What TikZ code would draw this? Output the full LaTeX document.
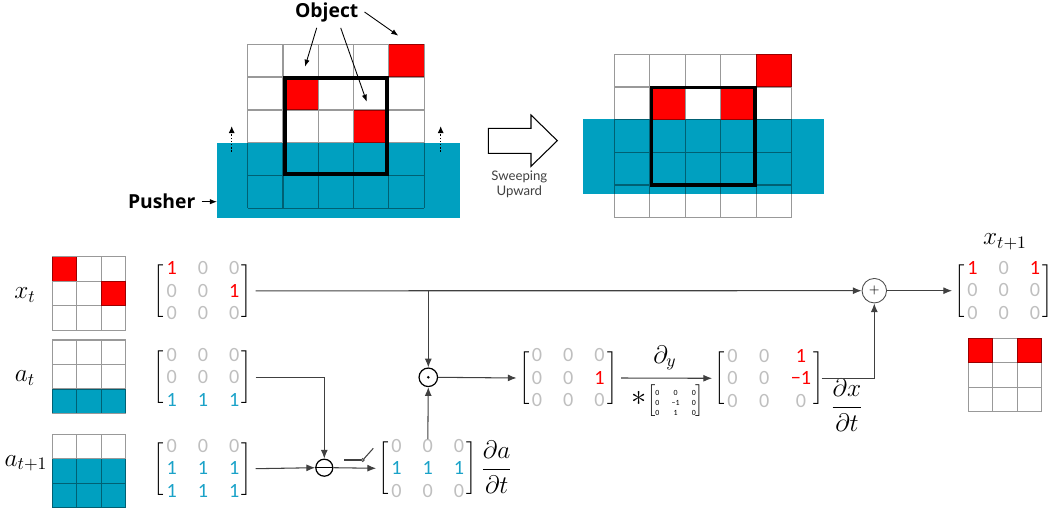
\documentclass[tikz,border=0pt]{standalone}
\usepackage{amsmath}
\usepackage{fontspec}
\usepackage{xcolor}
\usetikzlibrary{matrix}
\usetikzlibrary{positioning}
\usetikzlibrary{calc}
\usetikzlibrary{arrows.meta}

\newfontfamily\digf{Carlito}
\newfontfamily\labf{Open Sans}
\newfontfamily\capf{Lato}

\definecolor{pushblue}{RGB}{0,160,192}
\definecolor{zerogray}{RGB}{191,191,191}
\definecolor{onered}{RGB}{255,0,0}
\definecolor{oneblue}{RGB}{26,162,200}
\definecolor{linegray}{RGB}{64,64,64}

\begin{document}
\begin{tikzpicture}[x=0.02cm, y=-0.02cm,
  conn/.style={linegray, line width=0.6pt, -{Latex[length=5pt,width=4pt]}},
  pointer/.style={black, line width=0.5pt, -{Latex[length=4pt,width=3pt]}},
  cellline/.style={black, opacity=0.4, line width=0.7pt},
  bmat/.style={matrix of nodes, left delimiter={[}, right delimiter={]}, inner sep=0pt,
    row sep=0.2cm, column sep=0.42cm,
    nodes={font=\digf\fontsize{11.5}{13}\selectfont, text=zerogray, minimum width=0.2cm,
      text height=0.25cm, text depth=0cm, inner sep=0pt}},
  op/.style={circle, draw, line width=0.7pt, inner sep=0pt},
  lab/.style={font=\Large}]

\useasboundingbox (0,0) rectangle (1051,510);

% before sweeping
\node[fill=pushblue, minimum width=4.854cm, minimum height=1.5cm, inner sep=0pt] (push) at (338.7,180.8) {};
\begin{scope}[shift={(247.7,44.3)}, x=0.706cm, y=-0.656cm]
\foreach \c/\r in {4/0, 1/1, 3/2}
{
\fill[onered] (\c,\r) rectangle ++(1,1);
}
\draw[cellline] \foreach \i in {0,1,2,3,4,5} {(\i,0) -- (\i,5) (0,\i) -- (5,\i)};
\draw[line width=2pt] (1.05,1.02) rectangle (3.95,3.95);
\end{scope}

\draw[densely dotted, line width=0.8pt, -{Latex[length=4pt,width=3.5pt]}] (231.7,151.7) -- (231.7,126);
\draw[densely dotted, line width=0.8pt, -{Latex[length=4pt,width=3.5pt]}] (440.7,151.7) -- (440.7,126);

\node[font=\labf\bfseries\fontsize{11}{13}\selectfont] (obj) at (326.7,12) {Object};
\coordinate (obja) at (305,66.7);
\coordinate (objb) at (366.7,101.7);
\coordinate (objc) at (398.3,35.7);
\draw[pointer] ([xshift=-0.2cm]obj.south) -- (obja);
\draw[pointer] ([xshift=0.28cm]obj.south) -- (objb);
\draw[pointer] (obj.east) -- (objc);

\node[font=\labf\bfseries\fontsize{11}{13}\selectfont] (plab) at (161.7,201.7) {Pusher};
\draw[pointer] (plab.east) -- (plab -| push.west);

% sweeping arrow
\draw[line width=0.6pt, fill=white] (488.3,128.3) -- (531,128.3) -- (531,115) -- (557.3,140.7) -- (531,166.3) -- (531,153.3) -- (488.3,153.3) -- cycle;
\node[font=\capf\fontsize{7.5}{8.5}\selectfont, align=center, text=black!75] (sweep) at (519.3,184) {Sweeping\\Upward};

% after sweeping
\node[fill=pushblue, minimum width=4.826cm, minimum height=1.5cm, inner sep=0pt] (push2) at (703.4,156.8) {};
\begin{scope}[shift={(614.3,54.3)}, x=0.71cm, y=-0.654cm]
\foreach \c/\r in {4/0, 1/1, 3/1}
{
\fill[onered] (\c,\r) rectangle ++(1,1);
}
\draw[cellline] \foreach \i in {0,1,2,3,4,5} {(\i,0) -- (\i,5) (0,\i) -- (5,\i)};
\draw[line width=2pt] (1.05,1.02) rectangle (3.96,4);
\end{scope}

% small grids
\begin{scope}[shift={(52.3,256.7)}, x=0.49cm, y=-0.49cm]
\fill[onered] (0,0) rectangle ++(1,1);
\fill[onered] (2,1) rectangle ++(1,1);
\draw[cellline] \foreach \i in {0,1,2,3} {(\i,0) -- (\i,3) (0,\i) -- (3,\i)};
\end{scope}
\begin{scope}[shift={(52.3,340)}, x=0.49cm, y=-0.49cm]
\fill[pushblue] (0,2) rectangle (3,3);
\draw[cellline] \foreach \i in {0,1,2,3} {(\i,0) -- (\i,3) (0,\i) -- (3,\i)};
\end{scope}
\begin{scope}[shift={(52.3,434.3)}, x=0.49cm, y=-0.49cm]
\fill[pushblue] (0,1) rectangle (3,3);
\draw[cellline] \foreach \i in {0,1,2,3} {(\i,0) -- (\i,3) (0,\i) -- (3,\i)};
\end{scope}
\begin{scope}[shift={(968.3,338.3)}, x=0.49cm, y=-0.49cm]
\fill[onered] (0,0) rectangle ++(1,1);
\fill[onered] (2,0) rectangle ++(1,1);
\draw[cellline] \foreach \i in {0,1,2,3} {(\i,0) -- (\i,3) (0,\i) -- (3,\i)};
\end{scope}

\node[lab] (xlab) at (25,295) {$x_t$};
\node[lab] (alab) at (25,378.3) {$a_t$};
\node[lab] (anlab) at (26,463.3) {$a_{t+1}$};

% matrices
\matrix (xmat) [bmat] at (202.9,290.8) {
|[text=onered]|1 & 0 & 0 \\
0 & 0 & |[text=onered]|1 \\
0 & 0 & 0 \\
};
\matrix (amat) [bmat] at (202.9,377.3) {
0 & 0 & 0 \\
0 & 0 & 0 \\
|[text=oneblue]|1 & |[text=oneblue]|1 & |[text=oneblue]|1 \\
};
\matrix (anext) [bmat] at (202.9,468.7) {
0 & 0 & 0 \\
|[text=oneblue]|1 & |[text=oneblue]|1 & |[text=oneblue]|1 \\
|[text=oneblue]|1 & |[text=oneblue]|1 & |[text=oneblue]|1 \\
};
\matrix (dadt) [bmat] at (427.8,468.3) {
0 & 0 & 0 \\
|[text=oneblue]|1 & |[text=oneblue]|1 & |[text=oneblue]|1 \\
0 & 0 & 0 \\
};
\matrix (prod) [bmat] at (568.3,378) {
0 & 0 & 0 \\
0 & 0 & |[text=onered]|1 \\
0 & 0 & 0 \\
};
\matrix (dxdt) [bmat, column sep=0.43cm] at (769.3,378.3) {
0 & 0 & |[text=onered]|1 \\
0 & 0 & |[text=onered]|−1 \\
0 & 0 & 0 \\
};
\matrix (xnext) [bmat] at (1003.8,290.7) {
|[text=onered]|1 & 0 & |[text=onered]|1 \\
0 & 0 & 0 \\
0 & 0 & 0 \\
};

\node[lab] (dalab) at (496.7,467) {$\dfrac{\partial a}{\partial t}$};
\node[lab] (dxlab) at (847,405) {$\dfrac{\partial x}{\partial t}$};
\node[lab] (xnlab) at (1005,241.7) {$x_{t+1}$};

% operators
\node[op, minimum size=0.37cm] (dot) at (428.3,377.3) {};
\fill (dot.center) circle (1.4);
\node[op, minimum size=0.34cm] (minus) at (324.3,467.7) {};
\draw[line width=0.7pt] (minus.west) -- (minus.east);
\node[op, draw=black!70, line width=0.5pt, minimum size=0.49cm, font=\scriptsize] (plus) at (874.3,290.7) {$+$};

% connectors
\draw[conn] ([xshift=0.32cm]xmat.east) -- (plus.west);
\draw[conn] (dot |- xmat.east) -- (dot.north);
\draw[conn] ([xshift=0.32cm]amat.east) -| (minus.north);
\draw[conn] ([xshift=0.32cm]anext.east) -- (minus.west);
\draw[conn] (minus.east) -- ([xshift=-0.3cm]dadt.west);
\draw[conn] (dadt.north) -- (dot.south);
\draw[conn] (dot.east) -- ([xshift=-0.3cm]prod.west);
\draw[conn] ([xshift=0.32cm]prod.east) -- ([xshift=-0.3cm]dxdt.west);
\draw[conn] ([xshift=0.2cm]dxdt.east) -| (plus.south);
\draw[conn] (plus.east) -- ([xshift=-0.3cm]xnext.west);

% switch
\draw[linegray, line width=0.6pt] (344.3,460) -- (361.2,460);
\draw[linegray, line width=0.5pt] (362.7,460) circle (1.5);
\draw[linegray, line width=0.6pt] (364,458.7) -- (373.3,448.3);

\node[lab] (dylab) at (665,358) {$\partial_y$};
\node (kern) at (668,401.7) {{\LARGE$\ast$}$\left[\mbox{\digf\fontsize{4.5}{5.7}\selectfont\begin{tabular}{@{}c@{\hspace{7pt}}c@{\hspace{7pt}}c@{}}0&0&0\\0&−1&0\\0&1&0\end{tabular}}\right]$};

\end{tikzpicture}
\end{document}
